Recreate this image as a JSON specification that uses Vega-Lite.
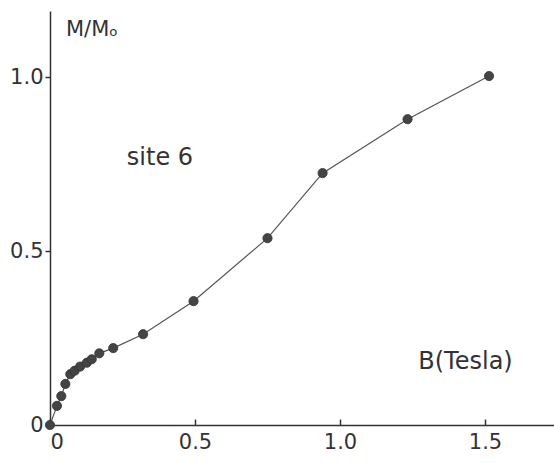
{
  "$schema": "https://vega.github.io/schema/vega-lite/v6.json",
  "autosize": "none",
  "width": 504,
  "height": 414,
  "padding": {"left": 50, "top": 11, "right": 0, "bottom": 38},
  "background": "white",
  "config": {"view": {"stroke": null}},
  "datasets": {
    "pts": [
      {"B": 0, "M": 0},
      {"B": 0.024, "M": 0.055},
      {"B": 0.039, "M": 0.083},
      {"B": 0.053, "M": 0.118},
      {"B": 0.07, "M": 0.146},
      {"B": 0.085, "M": 0.156},
      {"B": 0.104, "M": 0.168},
      {"B": 0.127, "M": 0.179},
      {"B": 0.144, "M": 0.189},
      {"B": 0.17, "M": 0.206},
      {"B": 0.218, "M": 0.221},
      {"B": 0.321, "M": 0.261},
      {"B": 0.495, "M": 0.356},
      {"B": 0.75, "M": 0.537},
      {"B": 0.94, "M": 0.724},
      {"B": 1.233, "M": 0.879},
      {"B": 1.514, "M": 1.003}
    ],
    "labels": [
      {"B": 0.055, "M": 1.135, "t": "M/Mₒ"},
      {"B": 0.265, "M": 0.767, "t": "site 6"},
      {"B": 1.27, "M": 0.181, "t": "B(Tesla)"}
    ]
  },
  "layer": [
    {
      "data": {"name": "pts"},
      "mark": {"type": "line", "stroke": "#555", "strokeWidth": 1.2},
      "encoding": {
        "x": {
          "field": "B", "type": "quantitative",
          "scale": {"domain": [0, 1.738], "nice": false, "zero": false},
          "axis": {
            "values": [0, 0.5, 1, 1.5], "title": null, "grid": false,
            "domainColor": "#333", "domainWidth": 1.5,
            "tickColor": "#333", "tickSize": -6, "tickWidth": 1.5,
            "labelPadding": 12, "labelFont": "DejaVu Sans", "labelFontSize": 21,
            "labelColor": "#333",
            "labelExpr": "datum.value == 0 ? '0' : format(datum.value, '.1f')"
          }
        },
        "y": {
          "field": "M", "type": "quantitative",
          "scale": {"domain": [0, 1.19], "nice": false, "zero": false},
          "axis": {
            "values": [0, 0.5, 1], "title": null, "grid": false,
            "domainColor": "#333", "domainWidth": 1.5,
            "tickColor": "#333", "tickSize": 5, "tickWidth": 1.5,
            "labelPadding": 2, "labelFont": "DejaVu Sans", "labelFontSize": 21,
            "labelColor": "#333",
            "labelExpr": "datum.value == 0 ? '0' : format(datum.value, '.1f')"
          }
        }
      }
    },
    {
      "data": {"name": "pts"},
      "mark": {"type": "circle", "size": 85, "color": "#444", "opacity": 1, "stroke": "#333", "strokeWidth": 0.8},
      "encoding": {
        "x": {"field": "B", "type": "quantitative"},
        "y": {"field": "M", "type": "quantitative"}
      }
    },
    {
      "data": {"name": "labels"},
      "mark": {"type": "text", "align": "left", "baseline": "middle", "font": "DejaVu Sans", "color": "#333"},
      "encoding": {
        "x": {"field": "B", "type": "quantitative"},
        "y": {"field": "M", "type": "quantitative"},
        "text": {"field": "t"},
        "size": {"condition": {"test": "datum.t == 'M/Mₒ'", "value": 21}, "value": 24}
      }
    }
  ]
}
